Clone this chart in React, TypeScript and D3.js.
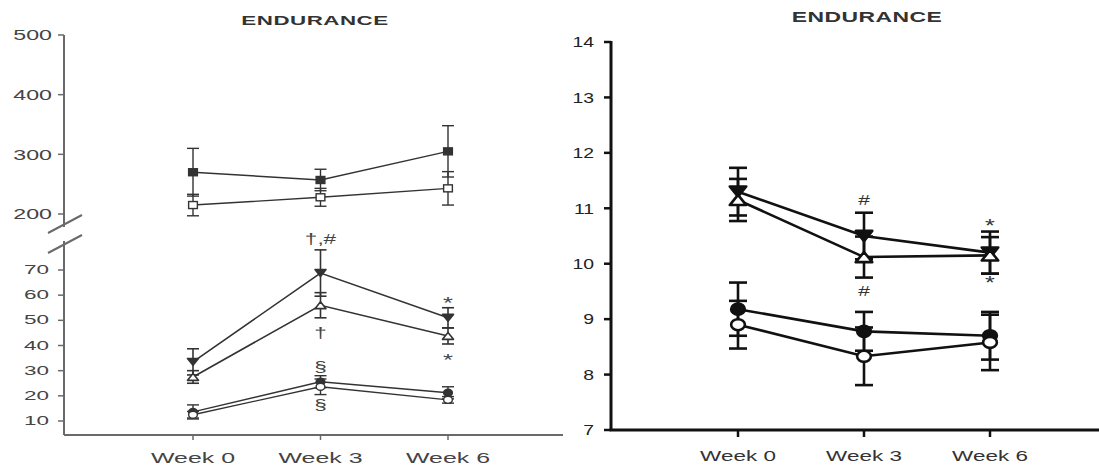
import React from 'react';
import * as d3 from 'd3';

const weeks = ['Week 0', 'Week 3', 'Week 6'];

// left panel, upper segment (squares)
const leftFilledSquare = [270, 257, 305];
const leftFilledSquareErr = [40, 18, 43];
const leftOpenSquare = [215, 228, 243];
const leftOpenSquareErr = [18, 15, 28];

// left panel, lower segment
const leftFilledTri = [33.5, 68.8, 51];
const leftFilledTriErr = [5.2, 9.2, 4];
const leftOpenTri = [27.5, 56, 43.8];
const leftOpenTriErr = [2.5, 5, 3.2];
const leftFilledCircle = [13.6, 25.6, 21.2];
const leftFilledCircleErr = [2.8, 2.4, 2.4];
const leftOpenCircle = [12.5, 23.6, 18.4];
const leftOpenCircleErr = [1.3, 3.1, 1.3];

const leftUpperTicks = [200, 300, 400, 500];
const leftLowerTicks = [10, 20, 30, 40, 50, 60, 70];
const leftNotes = [
  { week: 'Week 3', value: 82.5, text: '†,#' },
  { week: 'Week 3', value: 45, text: '†' },
  { week: 'Week 3', value: 31.5, text: '§' },
  { week: 'Week 3', value: 16.4, text: '§' },
  { week: 'Week 6', value: 58.2, text: '*' },
  { week: 'Week 6', value: 35.5, text: '*' },
];

// right panel
const rightFilledTri = [11.3, 10.5, 10.2];
const rightFilledTriErr = [0.43, 0.42, 0.38];
const rightOpenTri = [11.15, 10.12, 10.15];
const rightOpenTriErr = [0.38, 0.37, 0.33];
const rightFilledCircle = [9.18, 8.78, 8.7];
const rightFilledCircleErr = [0.48, 0.35, 0.43];
const rightOpenCircle = [8.9, 8.33, 8.58];
const rightOpenCircleErr = [0.43, 0.52, 0.5];
const rightTicks = [7, 8, 9, 10, 11, 12, 13, 14];
const rightNotes = [
  { week: 'Week 3', value: 11.15, text: '#' },
  { week: 'Week 3', value: 9.52, text: '#' },
  { week: 'Week 6', value: 10.73, text: '*' },
  { week: 'Week 6', value: 9.71, text: '*' },
];

const FONT = 'Liberation Sans, Arial, sans-serif';

// the source figure is stretched sideways, so text gets a horizontal scale
const T = ({ x, y, sx = 1.7, size = 14, anchor = 'middle', weight = 'normal', fill = '#444', ls = 0, children }: any) => (
  <text
    transform={`translate(${x},${y}) scale(${sx},1)`}
    textAnchor={anchor}
    dominantBaseline="central"
    fontSize={size}
    fontWeight={weight}
    letterSpacing={ls}
    fill={fill}
  >
    {children}
  </text>
);

const Marker = ({ x, y, shape, filled, r, color, sw }: any) => {
  const fill = filled ? color : '#fff';
  const rx = r * 1.25;
  if (shape === 'circle') return <ellipse cx={x} cy={y} rx={rx} ry={r} fill={fill} stroke={color} strokeWidth={sw} />;
  if (shape === 'square')
    return <rect x={x - rx} y={y - r} width={2 * rx} height={2 * r} fill={fill} stroke={color} strokeWidth={sw} />;
  const h = r * 1.7;
  const pts =
    shape === 'down'
      ? `${x - rx * 1.1},${y - h / 2} ${x + rx * 1.1},${y - h / 2} ${x},${y + h / 2}`
      : `${x - rx * 1.1},${y + h / 2} ${x + rx * 1.1},${y + h / 2} ${x},${y - h / 2}`;
  return <polygon points={pts} fill={fill} stroke={color} strokeWidth={sw} strokeLinejoin="round" />;
};

const Series = ({ vals, errs, shape, filled, x, y, r, color, sw, cap }: any) => {
  const line = d3.line<number>().x((_d, i) => x(weeks[i])).y((d) => y(d));
  return (
    <g>
      <path d={line(vals) || ''} fill="none" stroke={color} strokeWidth={sw} />
      {vals.map((v: number, i: number) => {
        const cx = x(weeks[i]);
        const y1 = y(v + errs[i]);
        const y2 = y(v - errs[i]);
        return (
          <g key={i}>
            <line x1={cx} x2={cx} y1={y1} y2={y2} stroke={color} strokeWidth={sw} />
            <line x1={cx - cap} x2={cx + cap} y1={y1} y2={y1} stroke={color} strokeWidth={sw} />
            <line x1={cx - cap} x2={cx + cap} y1={y2} y2={y2} stroke={color} strokeWidth={sw} />
          </g>
        );
      })}
      {vals.map((v: number, i: number) => (
        <Marker key={'m' + i} x={x(weeks[i])} y={y(v)} shape={shape} filled={filled} r={r} color={color} sw={sw} />
      ))}
    </g>
  );
};

export default function App() {
  // left panel scales
  const xL = d3.scalePoint<string>().domain(weeks).range([193, 448]);
  const yLU = d3.scaleLinear().domain([200, 500]).range([214, 35]);
  const yLL = d3.scaleLinear().domain([10, 70]).range([421, 270]);
  const axL = 64;
  const baseL = 435;

  // right panel scales
  const xR = d3.scalePoint<string>().domain(weeks).range([738, 990]);
  const yR = d3.scaleLinear().domain([7, 14]).range([430, 42]);
  const axR = 611;
  const baseR = yR(7);

  const cL = '#333';
  const aL = '#6a6a6a';
  const cR = '#111';

  return (
    <svg width={1099} height={465} style={{ position: 'absolute', left: 0, top: 0, background: '#fff' }} fontFamily={FONT}>
      {/* titles */}
      <T x={315} y={20} sx={1.72} size={13} weight="bold" fill="#333" ls={0.3}>ENDURANCE</T>
      <T x={867} y={17} sx={1.58} size={14.5} weight="bold" fill="#333" ls={0.3}>ENDURANCE</T>

      {/* left axes */}
      <line x1={axL} x2={axL} y1={yLU(500)} y2={227} stroke={aL} strokeWidth={2} />
      <line x1={axL} x2={axL} y1={241} y2={baseL} stroke={aL} strokeWidth={2} />
      <line x1={48} x2={82} y1={233} y2={215} stroke={aL} strokeWidth={2} />
      <line x1={48} x2={82} y1={253} y2={235} stroke={aL} strokeWidth={2} />
      <line x1={axL} x2={563} y1={baseL} y2={baseL} stroke={aL} strokeWidth={2} />
      {leftUpperTicks.map((t) => (
        <g key={'lu' + t}>
          <line x1={axL - 6} x2={axL} y1={yLU(t)} y2={yLU(t)} stroke={aL} strokeWidth={1.5} />
          <T x={52} y={yLU(t)} anchor="end" sx={1.6} size={14.5}>{t}</T>
        </g>
      ))}
      {leftLowerTicks.map((t) => (
        <g key={'ll' + t}>
          <line x1={axL - 6} x2={axL} y1={yLL(t)} y2={yLL(t)} stroke={aL} strokeWidth={1.5} />
          <T x={49} y={yLL(t)} anchor="end" sx={1.8} size={12.5}>{t}</T>
        </g>
      ))}
      {weeks.map((w) => (
        <g key={'lx' + w}>
          <line x1={xL(w)} x2={xL(w)} y1={baseL} y2={baseL + 5} stroke={aL} strokeWidth={1.5} />
          <T x={xL(w)} y={458} sx={1.72} size={14.5}>{w}</T>
        </g>
      ))}

      {/* left series */}
      <Series vals={leftFilledSquare} errs={leftFilledSquareErr} shape="square" filled x={xL} y={yLU} r={3.5} color={cL} sw={1.4} cap={6} />
      <Series vals={leftOpenSquare} errs={leftOpenSquareErr} shape="square" filled={false} x={xL} y={yLU} r={3.5} color={cL} sw={1.4} cap={6} />
      <Series vals={leftFilledTri} errs={leftFilledTriErr} shape="down" filled x={xL} y={yLL} r={4} color={cL} sw={1.6} cap={6} />
      <Series vals={leftOpenTri} errs={leftOpenTriErr} shape="up" filled={false} x={xL} y={yLL} r={4} color={cL} sw={1.6} cap={6} />
      <Series vals={leftFilledCircle} errs={leftFilledCircleErr} shape="circle" filled x={xL} y={yLL} r={3.5} color={cL} sw={1.4} cap={6} />
      <Series vals={leftOpenCircle} errs={leftOpenCircleErr} shape="circle" filled={false} x={xL} y={yLL} r={3.5} color={cL} sw={1.4} cap={6} />
      {leftNotes.map((n, i) => (
        <T key={'ln' + i} x={xL(n.week)} y={yLL(n.value) + (n.text === '*' ? 3 : 0)} sx={1.5} size={n.text === '*' ? 17 : 15} fill="#444">
          {n.text}
        </T>
      ))}

      {/* right axes */}
      <line x1={axR} x2={axR} y1={yR(14) - 1} y2={baseR} stroke={cR} strokeWidth={3} />
      <line x1={axR - 1.5} x2={1099} y1={baseR} y2={baseR} stroke={cR} strokeWidth={3} />
      {rightTicks.map((t) => (
        <g key={'rt' + t}>
          <line x1={axR - 7} x2={axR} y1={yR(t)} y2={yR(t)} stroke={cR} strokeWidth={2.5} />
          <T x={594} y={yR(t)} anchor="end" sx={1.25} size={15.5} fill="#222">{t}</T>
        </g>
      ))}
      {weeks.map((w) => (
        <g key={'rx' + w}>
          <line x1={xR(w)} x2={xR(w)} y1={baseR} y2={baseR + 7} stroke={cR} strokeWidth={2.5} />
          <T x={xR(w)} y={456} sx={1.55} size={14.5} fill="#333">{w}</T>
        </g>
      ))}

      {/* right series */}
      <Series vals={rightFilledTri} errs={rightFilledTriErr} shape="down" filled x={xR} y={yR} r={6} color={cR} sw={2.6} cap={9} />
      <Series vals={rightOpenTri} errs={rightOpenTriErr} shape="up" filled={false} x={xR} y={yR} r={6} color={cR} sw={2.6} cap={9} />
      <Series vals={rightFilledCircle} errs={rightFilledCircleErr} shape="circle" filled x={xR} y={yR} r={5.5} color={cR} sw={2.6} cap={9} />
      <Series vals={rightOpenCircle} errs={rightOpenCircleErr} shape="circle" filled={false} x={xR} y={yR} r={5.5} color={cR} sw={2.6} cap={9} />
      {rightNotes.map((n, i) => (
        <T key={'rn' + i} x={xR(n.week)} y={yR(n.value) + (n.text === '*' ? 3 : 0)} sx={1.4} size={n.text === '*' ? 18 : 15} fill="#333">
          {n.text}
        </T>
      ))}
    </svg>
  );
}
